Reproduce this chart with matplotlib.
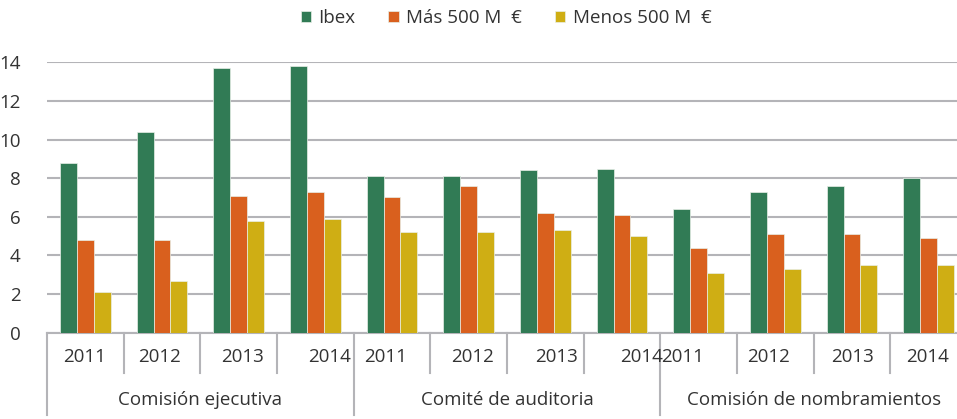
import numpy as np
import matplotlib.pyplot as plt

plt.rcParams['font.family'] = ['Open Sans', 'DejaVu Sans']

years = ['2011', '2012', '2013', '2014']
committees = ['Comisión ejecutiva', 'Comité de auditoria', 'Comisión de nombramientos']
series = ['Ibex', 'Más 500 M  €', 'Menos 500 M  €']

ibex = [8.8, 10.4, 13.7, 13.8, 8.1, 8.1, 8.4, 8.5, 6.4, 7.3, 7.6, 8.0]
mas500 = [4.8, 4.8, 7.1, 7.3, 7.0, 7.6, 6.2, 6.1, 4.4, 5.1, 5.1, 4.9]
menos500 = [2.1, 2.7, 5.8, 5.9, 5.2, 5.2, 5.3, 5.0, 3.1, 3.3, 3.5, 3.5]

colors = ['#317B55', '#D9601E', '#CFAE14']
txt = '#333333'
grid_c = '#b4b4b8'
fs = 13.5

# small horizontal nudges (px) of the year labels, as in the original
nudge_px = [-1, -3, 4, 14, -6, 4, 11, 20, -16, -7, 1, -1]

W, H = 957, 419
fig = plt.figure(figsize=(W / 100, H / 100), dpi=100)
# axes runs past the right edge of the figure (original is cropped)
ax = fig.add_axes([47 / W, (H - 332.7) / H, 920 / W, 270.4 / H])

n = len(ibex)
x = np.arange(n)
bw = 17 / 76.7
for k, (vals, c) in enumerate(zip([ibex, mas500, menos500], colors)):
    ax.bar(x + (k - 1) * bw, vals, bw, color=c, edgecolor='#e8efe8', linewidth=0.5,
           label=series[k], zorder=3)

ax.set_xlim(-0.5, n - 0.5)
ax.set_ylim(0, 14)
ax.set_yticks(range(0, 15, 2))
ax.yaxis.grid(True, color=grid_c, linewidth=1.5, zorder=0)
ax.tick_params(axis='y', length=0, pad=19, labelsize=fs, labelcolor=txt)
ax.set_xticks([])
for s in ['top', 'right', 'left']:
    ax.spines[s].set_visible(False)
ax.spines['bottom'].set_color(grid_c)
ax.spines['bottom'].set_linewidth(1.5)

ax_h = 270.4
tr = ax.get_xaxis_transform()
# separators
for b in range(n + 1):
    depth = 82 if b % 4 == 0 else 40
    ax.plot([b - 0.5, b - 0.5], [0, -depth / ax_h], transform=tr, color=grid_c,
            linewidth=1.5, clip_on=False)
# year labels
for i in range(n):
    ax.text(i + nudge_px[i] / 76.7, -24 / ax_h, years[i % 4], transform=tr,
            ha='center', va='center', fontsize=fs, color=txt)
# committee labels
for j, name in enumerate(committees):
    ax.text(j * 4 + 1.5, -67 / ax_h, name, transform=tr, ha='center', va='center',
            fontsize=fs, color=txt)

fig.legend(loc='center', bbox_to_anchor=(506 / W, 1 - 18 / H), ncol=3, frameon=False,
           fontsize=fs, labelcolor=txt, handlelength=0.55, handleheight=0.55,
           handletextpad=0.4, columnspacing=1.75)

fig.savefig('out.png', dpi=100)
